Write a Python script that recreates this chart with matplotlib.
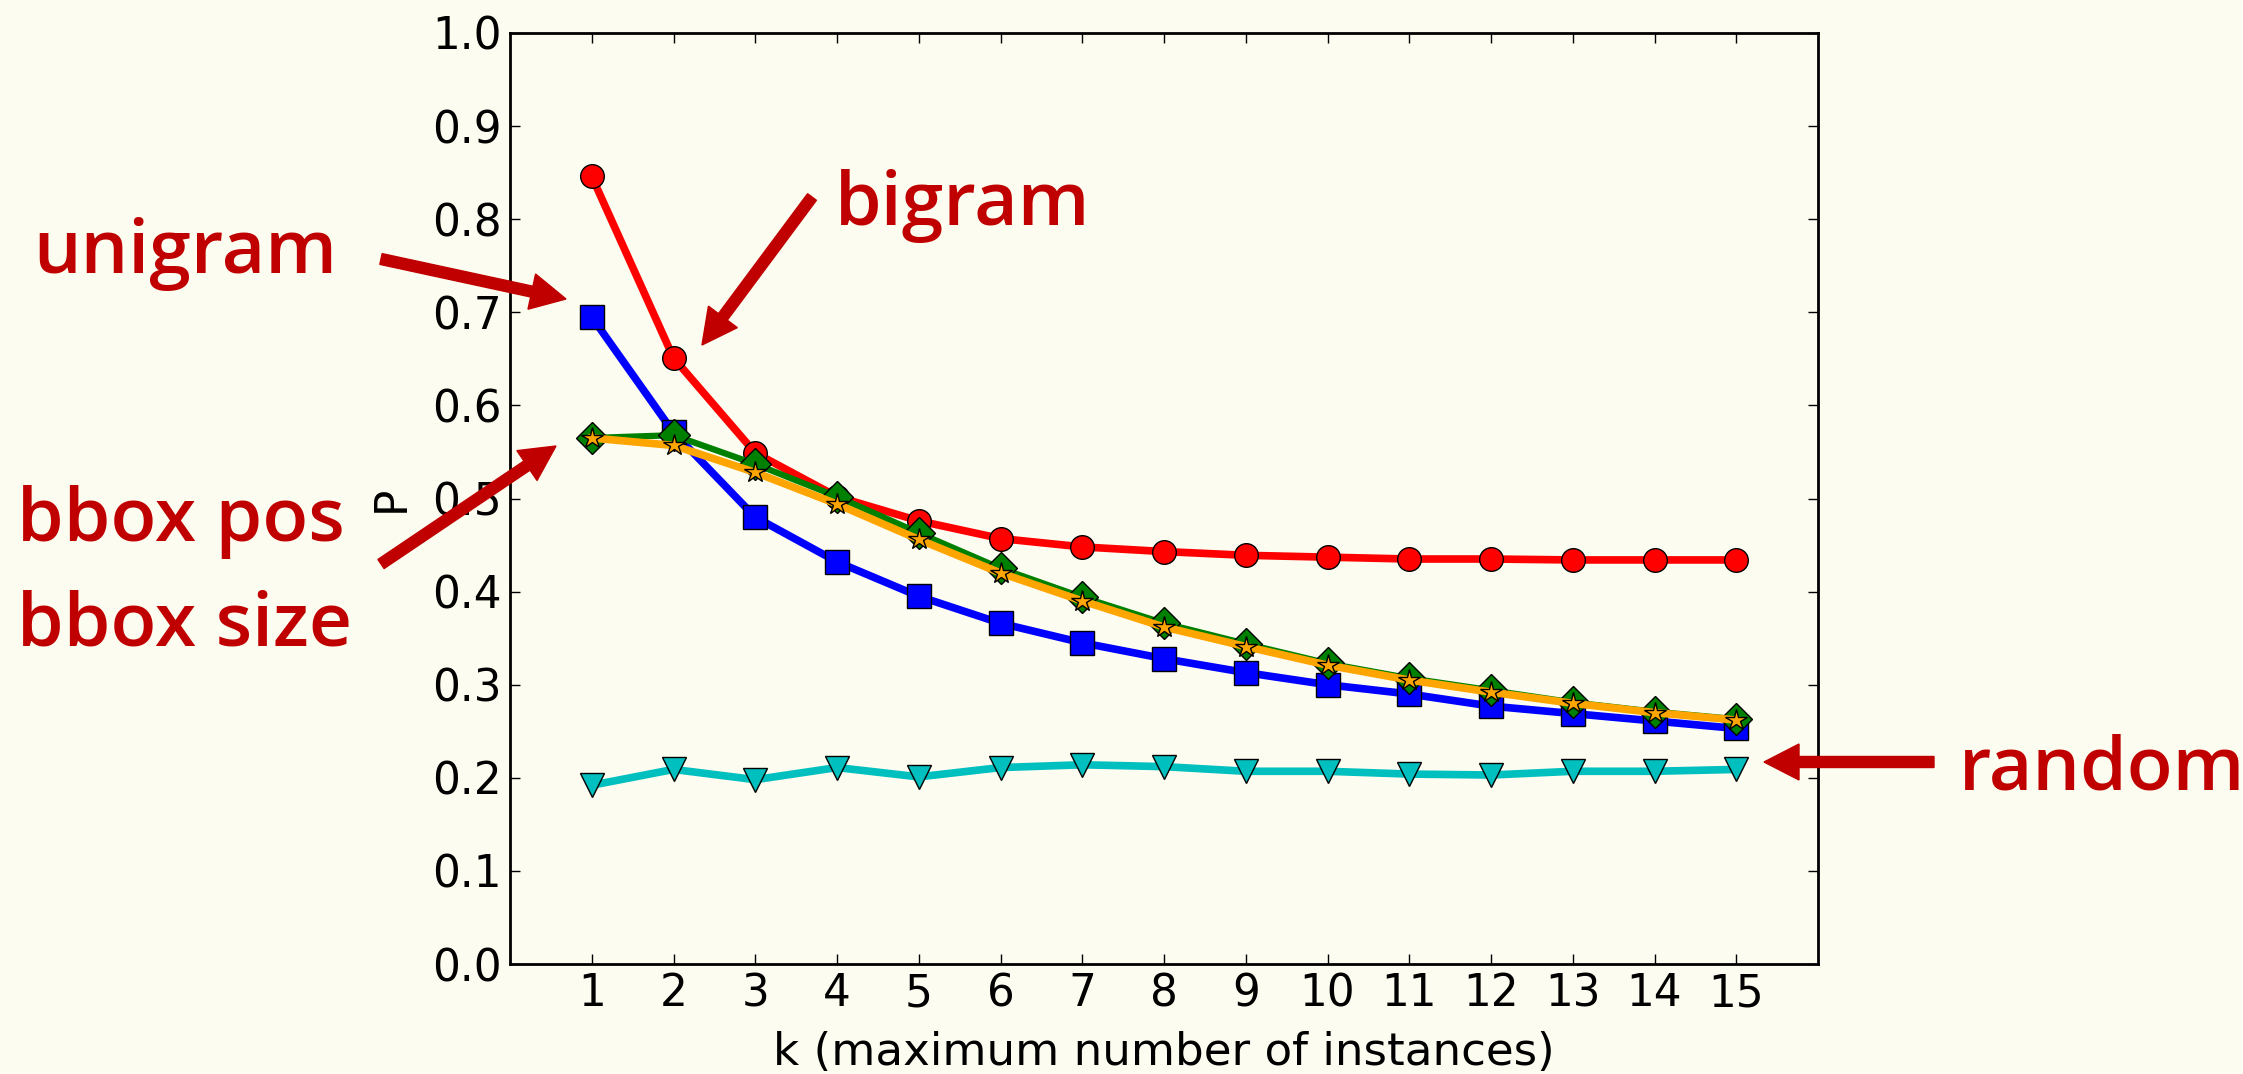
import matplotlib
matplotlib.use("Agg")
import matplotlib.pyplot as plt
from matplotlib.patches import FancyArrow
from matplotlib.transforms import IdentityTransform
from matplotlib.ticker import FormatStrFormatter

# data
k = list(range(1, 16))
bigram = [0.846, 0.651, 0.549, 0.502, 0.476, 0.457, 0.448, 0.443, 0.439,
          0.437, 0.435, 0.435, 0.434, 0.434, 0.434]
unigram = [0.695, 0.571, 0.480, 0.432, 0.395, 0.366, 0.345, 0.328, 0.313,
           0.300, 0.290, 0.277, 0.269, 0.261, 0.253]
bbox_pos = [0.565, 0.568, 0.537, 0.502, 0.463, 0.425, 0.394, 0.366, 0.344,
            0.323, 0.307, 0.294, 0.281, 0.271, 0.263]
bbox_size = [0.565, 0.557, 0.528, 0.494, 0.456, 0.420, 0.390, 0.362, 0.341,
             0.321, 0.305, 0.292, 0.280, 0.270, 0.262]
random_ = [0.192, 0.209, 0.198, 0.211, 0.201, 0.211, 0.214, 0.212, 0.207,
           0.207, 0.204, 0.203, 0.207, 0.207, 0.209]
yticks = [0.0, 0.1, 0.2, 0.3, 0.4, 0.5, 0.6, 0.7, 0.8, 0.9, 1.0]

bg = "#fcfcf0"
dark_red = "#c00000"
W, H = 2243, 1074

plt.rcParams["font.family"] = "DejaVu Sans"
fig = plt.figure(figsize=(W / 100, H / 100), dpi=100, facecolor=bg)
ax = fig.add_axes([510 / W, 1 - 964 / H, 1308 / W, 931 / H])
ax.set_facecolor(bg)

mk = dict(markeredgecolor="k", markeredgewidth=1.0)
ax.plot(k, unigram, color="#0000ff", lw=5.5, marker="s", ms=17, **mk)
ax.plot(k, bigram, color="#ff0000", lw=5.5, marker="o", ms=17, **mk)
ax.plot(k, random_, color="#00bfbf", lw=5.5, marker="v", ms=17, **mk)
ax.plot(k, bbox_pos, color="#008000", lw=4.5, marker="D", ms=16, **mk)
ax.plot(k, bbox_size, color="#ffa500", lw=5.5, marker="*", ms=16, **mk)

ax.set_xlim(0, 16)
ax.set_ylim(0, 1)
ax.set_xticks(k)
ax.set_yticks(yticks)
ax.yaxis.set_major_formatter(FormatStrFormatter("%.1f"))
ax.tick_params(direction="in", length=7, width=1, top=True, right=True,
               labelsize=31.5, pad=6)
for s in ax.spines.values():
    s.set_linewidth(2)
ax.set_xlabel("k (maximum number of instances)", fontsize=32.5, labelpad=11)
ax.set_ylabel("P", fontsize=31.5, labelpad=14)

# annotations (figure pixels, y measured from top)
tfont = dict(family="Open Sans", weight=600, size=54, color=dark_red,
             ha="left", va="baseline")
for txt, x, y in [("unigram", 33, 273), ("bigram", 835, 225),
                  ("bbox pos", 17, 541), ("bbox size", 17, 645),
                  ("random", 1959, 790)]:
    fig.text(x / W, 1 - y / H, txt, **tfont)

for (x0, y0), (x1, y1) in [((381, 259), (566, 299)), ((812, 197), (702, 345)),
                           ((381, 564), (556, 446)), ((1934, 762), (1764, 762))]:
    fig.add_artist(FancyArrow(x0, H - y0, x1 - x0, y0 - y1, width=11,
                              head_width=36, head_length=35,
                              length_includes_head=True, color=dark_red,
                              transform=IdentityTransform()))

fig.savefig("out.png", dpi=100, facecolor=bg)
